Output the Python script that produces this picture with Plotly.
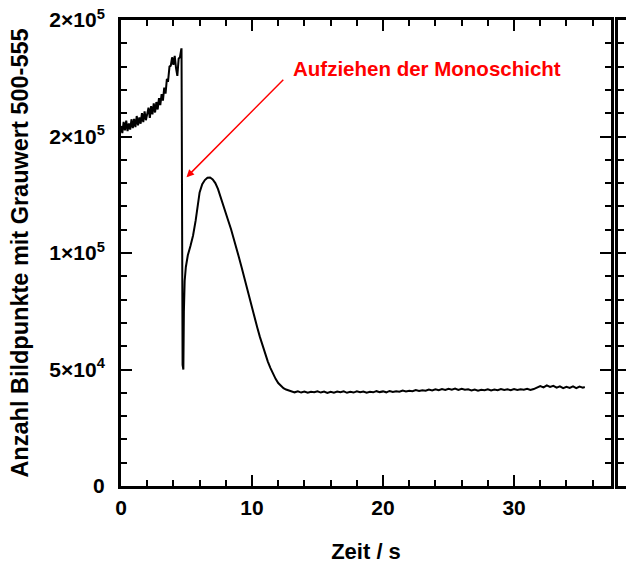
import plotly.graph_objects as go

# rise before the monolayer is pulled (s, counts)
t_rise = [0.0, 0.1, 0.2, 0.3, 0.4, 0.5, 0.6, 0.7, 0.8, 0.9,
          1.0, 1.1, 1.2, 1.3, 1.4, 1.5, 1.6, 1.7, 1.8, 1.9,
          2.0, 2.1, 2.2, 2.3, 2.4, 2.5, 2.6, 2.7, 2.8, 2.9,
          3.0, 3.1, 3.2, 3.3, 3.4, 3.5, 3.6, 3.7, 3.8, 3.9,
          4.0, 4.1, 4.2, 4.3, 4.4, 4.5, 4.6]
n_rise = [154500, 151500, 156300, 152600, 156800, 152300, 155600, 153000, 157400, 153600,
          157600, 154000, 158800, 154800, 158200, 155500, 160000, 156200, 160800, 157000,
          159600, 162400, 158000, 163000, 159500, 164200, 160300, 164800, 161600, 166500,
          163500, 168200, 165400, 171000, 168400, 174600, 174200, 180000, 180400, 184000,
          180800, 184600, 179400, 176000, 183400, 184000, 187500]

# drop and transient peak
t_peak = [4.62, 4.70, 4.76, 4.80, 4.86, 4.95, 5.1, 5.3, 5.5, 5.7, 5.9, 6.0,
          6.2, 6.4, 6.6, 6.8, 7.0, 7.2, 7.4, 7.6, 7.8, 8.0, 8.2, 8.4, 8.6,
          8.8, 9.0, 9.2, 9.4, 9.6, 9.8, 10.0, 10.2, 10.4, 10.6, 10.8, 11.0,
          11.2, 11.4, 11.6, 11.8, 12.0, 12.2, 12.4, 12.6, 12.8]
n_peak = [187500, 52000, 50000, 75000, 88000, 94000, 99000, 103000, 107500, 114000, 121000, 126000,
          129500, 131300, 132300, 132400, 131600, 130000, 127500, 123800, 120500, 117000, 113600, 110200, 106500,
          102500, 98200, 94000, 89500, 85000, 80300, 76000, 72000, 68000, 64000, 60200, 56700,
          53500, 50700, 48200, 46000, 44200, 42900, 42000, 41400, 41000]

# plateau
t_tail = [13.0, 13.25, 13.5, 13.75, 14.0, 14.25, 14.5, 14.75, 15.0, 15.25,
          15.5, 15.75, 16.0, 16.25, 16.5, 16.75, 17.0, 17.25, 17.5, 17.75,
          18.0, 18.25, 18.5, 18.75, 19.0, 19.25, 19.5, 19.75, 20.0, 20.25,
          20.5, 20.75, 21.0, 21.25, 21.5, 21.75, 22.0, 22.25, 22.5, 22.75,
          23.0, 23.25, 23.5, 23.75, 24.0, 24.25, 24.5, 24.75, 25.0, 25.25,
          25.5, 25.75, 26.0, 26.25, 26.5, 26.75, 27.0, 27.25, 27.5, 27.75,
          28.0, 28.25, 28.5, 28.75, 29.0, 29.25, 29.5, 29.75, 30.0, 30.25,
          30.5, 30.75, 31.0, 31.25, 31.5, 31.75, 32.0, 32.25, 32.5, 32.75,
          33.0, 33.25, 33.5, 33.75, 34.0, 34.25, 34.5, 34.75, 35.0, 35.25, 35.4]
n_tail = [40700, 40200, 40600, 40100, 40500, 40000, 40400, 40200, 40600, 40100,
          40500, 39900, 40400, 40000, 40500, 40200, 40600, 40000, 40400, 40100,
          40600, 40200, 40500, 40000, 40400, 40200, 40700, 40300, 40600, 40200,
          40800, 40400, 40700, 40500, 41000, 40600, 40900, 40700, 41200, 40800,
          41100, 40900, 41400, 41000, 41500, 41100, 41600, 41200, 41700, 41300,
          41800, 41200, 41700, 41300, 41500, 41000, 41400, 40900, 41300, 41100,
          41500, 41000, 41400, 41100, 41600, 41200, 41500, 41100, 41600, 41200,
          41500, 41300, 41700, 41200, 41600, 42300, 42900, 42300, 43200, 42500,
          43000, 42200, 42800, 42000, 42600, 42100, 42800, 42000, 42700, 42200, 42500]

y_tickvals = [0, 50000, 100000, 150000, 200000]
y_ticktext = ["0", "5×10<sup>4</sup>", "1×10<sup>5</sup>", "2×10<sup>5</sup>", "2×10<sup>5</sup>"]
x_tickvals = [0, 10, 20, 30]

arrow_tip = (5.0, 132500)
arrow_tail = (12.5, 175000)
label_pos = (13.0, 179000)

t_all = t_rise + t_peak + t_tail
n_all = n_rise + n_peak + n_tail

font_family = "Liberation Sans, Arial, sans-serif"
bold = dict(family=font_family, weight="bold", color="black")

fig = go.Figure()
fig.add_trace(go.Scatter(
    x=t_all, y=n_all, mode="lines",
    line=dict(color="black", width=2),
    showlegend=False,
))
# invisible point so the neighbouring panel's axes get drawn
fig.add_trace(go.Scatter(
    x=[0.5], y=[100000], xaxis="x2", yaxis="y2", mode="markers",
    marker=dict(opacity=0), hoverinfo="skip", showlegend=False,
))

axis_common = dict(
    showline=True, linecolor="black", linewidth=3,
    ticks="inside", tickwidth=2, tickcolor="black", ticklen=11,
    showgrid=False, zeroline=False, automargin=False,
)

fig.update_layout(
    width=626, height=564,
    margin=dict(l=121, r=0, t=20, b=78),
    paper_bgcolor="white", plot_bgcolor="white",
    font=dict(family=font_family, size=19, color="black"),
    xaxis=dict(
        **axis_common,
        domain=[0, 490 / 505],
        range=[0, 37.4],
        mirror="ticks",
        tickvals=x_tickvals,
        tickfont=dict(**bold, size=21),
        ticklabelstandoff=1,
        minor=dict(ticks="inside", ticklen=6, tickwidth=2, tickcolor="black", dtick=2),
        title=dict(text="Zeit / s", font=dict(**bold, size=22), standoff=27),
    ),
    yaxis=dict(
        **axis_common,
        range=[0, 200000],
        mirror="ticks",
        tickvals=y_tickvals,
        ticktext=y_ticktext,
        tickfont=dict(**bold, size=21),
        ticklabelstandoff=9,
        ticklabeloverflow="allow",
        minor=dict(ticks="inside", ticklen=6, tickwidth=2, tickcolor="black", dtick=10000),
        title=dict(text="Anzahl Bildpunkte mit Grauwert 500-555", font=dict(**bold, size=23.5), standoff=15),
    ),
    # edge of the neighbouring panel, cut off by the image border
    xaxis2=dict(
        showline=True, linecolor="black", linewidth=3, mirror=True, automargin=False,
        domain=[497 / 505, 1], range=[0, 1], anchor="y2",
        showticklabels=False, ticks="", showgrid=False, zeroline=False,
    ),
    yaxis2=dict(
        **axis_common,
        anchor="x2", range=[0, 200000],
        tickvals=y_tickvals, showticklabels=False,
        minor=dict(ticks="inside", ticklen=6, tickwidth=2, tickcolor="black", dtick=10000),
    ),
)

fig.add_annotation(
    x=arrow_tip[0], y=arrow_tip[1], ax=arrow_tail[0], ay=arrow_tail[1],
    axref="x", ayref="y", text="", showarrow=True,
    arrowhead=2, arrowsize=1, arrowwidth=1.5, arrowcolor="#ff0000",
)
fig.add_annotation(
    x=label_pos[0], y=label_pos[1], xanchor="left", yanchor="middle",
    text="Aufziehen der Monoschicht", showarrow=False,
    font=dict(**{**bold, "color": "#ff0000"}, size=20.5),
)

# drop the default page margin so the figure fills the window exactly
fig.write_html(
    "out.html",
    config={"displayModeBar": False},
    post_script="document.body.style.margin='0px'; document.body.style.overflow='hidden';",
)
